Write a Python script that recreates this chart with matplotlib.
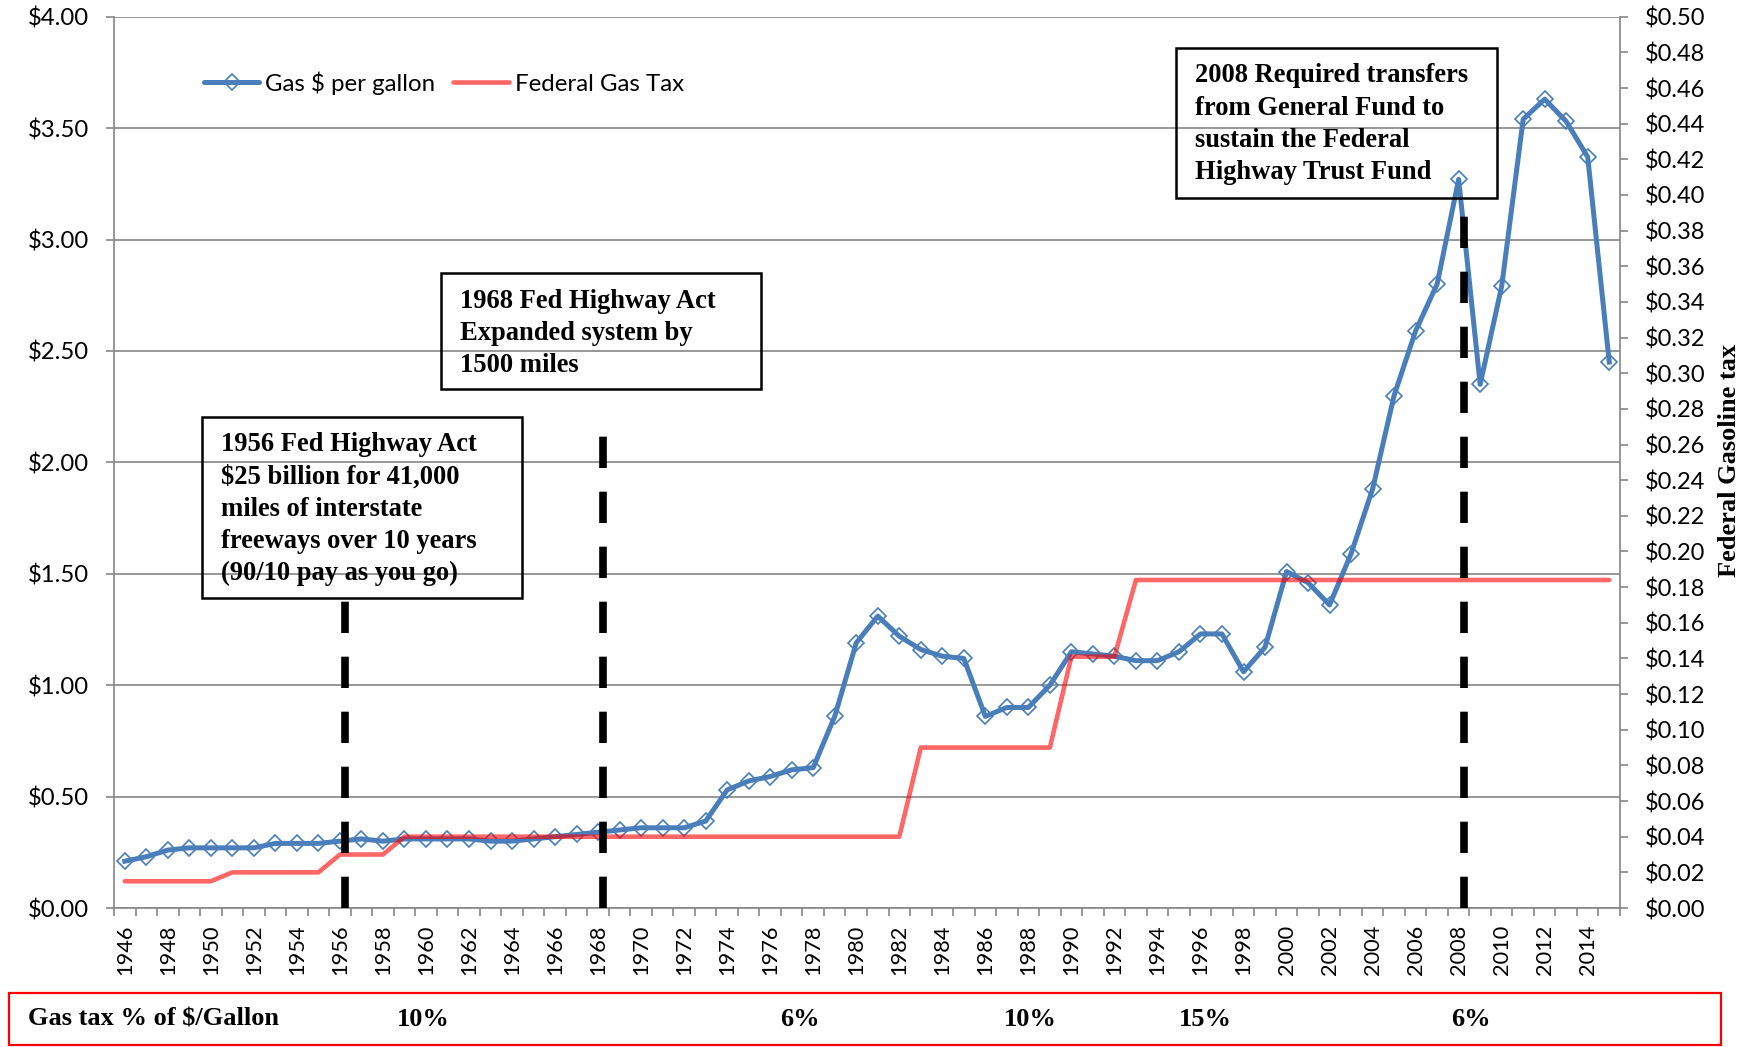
import matplotlib
matplotlib.use('Agg')
import matplotlib.pyplot as plt
from matplotlib.ticker import MultipleLocator, FuncFormatter, FixedLocator
from matplotlib.patches import Rectangle
from matplotlib.lines import Line2D

# ---------------- data ----------------
years = list(range(1946, 2016))
gas_price = [0.21, 0.23, 0.26, 0.27, 0.27, 0.27, 0.27, 0.29, 0.29, 0.29,
             0.30, 0.31, 0.30, 0.31, 0.31, 0.31, 0.31, 0.30, 0.30, 0.31,
             0.32, 0.33, 0.34, 0.35, 0.36, 0.36, 0.36, 0.39, 0.53, 0.57,
             0.59, 0.62, 0.63, 0.86, 1.19, 1.31, 1.22, 1.16, 1.13, 1.12,
             0.86, 0.90, 0.90, 1.00, 1.15, 1.14, 1.13, 1.11, 1.11, 1.15,
             1.23, 1.23, 1.06, 1.17, 1.51, 1.46, 1.36, 1.59, 1.88, 2.30,
             2.59, 2.80, 3.27, 2.35, 2.79, 3.54, 3.63, 3.53, 3.37, 2.45]
fed_tax = [0.015, 0.015, 0.015, 0.015, 0.015, 0.02, 0.02, 0.02, 0.02, 0.02,
           0.03, 0.03, 0.03, 0.04, 0.04, 0.04, 0.04, 0.04, 0.04, 0.04,
           0.04, 0.04, 0.04, 0.04, 0.04, 0.04, 0.04, 0.04, 0.04, 0.04,
           0.04, 0.04, 0.04, 0.04, 0.04, 0.04, 0.04, 0.09, 0.09, 0.09,
           0.09, 0.09, 0.09, 0.09, 0.141, 0.141, 0.141, 0.184, 0.184, 0.184,
           0.184, 0.184, 0.184, 0.184, 0.184, 0.184, 0.184, 0.184, 0.184, 0.184,
           0.184, 0.184, 0.184, 0.184, 0.184, 0.184, 0.184, 0.184, 0.184, 0.184]
series_names = ["Gas $ per gallon", "Federal Gas Tax"]
event_years = [1956, 1968, 2008]
event_tops = [1.43, 2.13, 3.13]
box1_lines = ["1956 Fed Highway Act", "$25 billion for 41,000", "miles of interstate",
              "freeways over 10 years", "(90/10 pay as you go)"]
box2_lines = ["1968 Fed Highway Act", "Expanded system by", "1500 miles"]
box3_lines = ["2008 Required transfers", "from General Fund to", "sustain the Federal",
              "Highway Trust Fund"]
pct_title = "Gas tax % of $/Gallon"
pct_labels = ["10%", "6%", "10%", "15%", "6%"]
right_label = "Federal Gasoline tax"

# ---------------- styling ----------------
W, H = 1760, 1047
BLUE = '#4A7EBB'
GRAY = '#868686'
SANS = ['Lato', 'DejaVu Sans']
SERIF = ['Liberation Serif', 'DejaVu Serif']
plt.rcParams['font.family'] = SANS


def fx(px):
    return px / W


def fy(py):
    return 1 - py / H


def esc(s):
    return s.replace('$', r'\$')


fig = plt.figure(figsize=(W / 100, H / 100), dpi=100)
L, R, T, B = 114, 1620, 16.7, 908
ax = fig.add_axes([fx(L), fy(B), fx(R - L), (B - T) / H])
ax2 = ax.twinx()

ax.set_xlim(years[0] - 0.5, years[-1] + 0.5)
ax.set_ylim(0, 4)
ax2.set_ylim(0, 0.5)

# gas price (left axis)
ax.plot(years, gas_price, color=BLUE, lw=3.6, marker='D', markersize=8.2,
        markerfacecolor='none', markeredgecolor=BLUE, markeredgewidth=1.2,
        solid_joinstyle='round', zorder=3)
# federal tax (right axis)
ax2.plot(years, fed_tax, color='#FF0000', alpha=0.6, lw=3.3,
         solid_joinstyle='round', solid_capstyle='round', zorder=3)

# event dashed lines
for yr, top in zip(event_years, event_tops):
    ax2.plot([yr + 0.23, yr + 0.23], [0, top], transform=ax.transData,
             color='black', lw=5.5, dashes=(4.1, 3.1), zorder=5)

# axes styling
ax.grid(axis='y', color=GRAY, lw=1.2, zorder=0)
ax.set_axisbelow(True)
for a in (ax, ax2):
    for s in a.spines.values():
        s.set_visible(False)
ax.spines['left'].set_visible(True)
ax.spines['bottom'].set_visible(True)
ax2.spines['right'].set_visible(True)
for s in (ax.spines['left'], ax.spines['bottom'], ax2.spines['right']):
    s.set_color(GRAY)
    s.set_linewidth(1.2)

money = FuncFormatter(lambda v, p: '$%.2f' % v)
ax.yaxis.set_major_locator(MultipleLocator(0.5))
ax.yaxis.set_major_formatter(money)
ax2.yaxis.set_major_locator(MultipleLocator(0.02))
ax2.yaxis.set_major_formatter(money)
ax.tick_params(axis='y', direction='out', length=5.8, width=1.2, color=GRAY,
               pad=12, labelsize=17.2)
ax2.tick_params(axis='y', direction='out', length=5.8, width=1.2, color=GRAY,
                pad=12, labelsize=17)

ax.set_xticks(years[::2])
ax.set_xticklabels([str(y) for y in years[::2]], rotation=90)
ax.xaxis.set_minor_locator(FixedLocator([y - 0.5 for y in years] + [years[-1] + 0.5]))
ax.tick_params(axis='x', which='major', length=0, pad=12, labelsize=15.7)
ax.tick_params(axis='x', which='minor', direction='out', length=5.8, width=1.2, color=GRAY)

ax2.set_ylabel(right_label, family=SERIF, fontweight='bold', fontsize=19)
ax2.yaxis.set_label_coords((1718 - L) / (R - L), (B - 460) / (B - T))

# legend
handles = [Line2D([], [], color=BLUE, lw=3.6, marker='D', markersize=8.2,
                  markerfacecolor='none', markeredgecolor=BLUE, markeredgewidth=1.2,
                  solid_capstyle='round'),
           Line2D([], [], color='#FF0000', alpha=0.6, lw=3.3, solid_capstyle='round')]
leg = ax2.legend(handles, [esc(n) for n in series_names], loc='center left',
                 bbox_to_anchor=(fx(204), fy(83)), bbox_transform=fig.transFigure,
                 ncol=2, frameon=False, fontsize=17.3, handlelength=2.3,
                 handletextpad=0.25, columnspacing=0.75, borderpad=0, borderaxespad=0)

# annotation boxes
def text_box(x0, y0, x1, y1, lines, first_base, pitch=32.3, inset=19):
    fig.add_artist(Rectangle((fx(x0), fy(y1)), fx(x1 - x0), (y1 - y0) / H,
                             transform=fig.transFigure, fill=False,
                             edgecolor='black', lw=1.8, zorder=10))
    for i, ln in enumerate(lines):
        fig.text(fx(x0 + inset), fy(first_base + i * pitch), esc(ln),
                 family=SERIF, fontweight='bold', fontsize=19.1,
                 ha='left', va='baseline', zorder=11)


text_box(201.7, 416.7, 521.7, 598.3, box1_lines, 451)
text_box(441, 273, 761, 389, box2_lines, 307.5)
text_box(1176, 48, 1497, 197.5, box3_lines, 82.5)

# bottom percentage box
fig.add_artist(Rectangle((fx(9), fy(1045)), fx(1721 - 9), (1045 - 993) / H,
                         transform=fig.transFigure, fill=False,
                         edgecolor='#FF0000', lw=1.6))
fig.text(fx(28), fy(1019), esc(pct_title), family=SERIF, fontweight='bold',
         fontsize=19, ha='left', va='center')
for xc, lab in zip([423, 800, 1030, 1205, 1471], pct_labels):
    fig.text(fx(xc), fy(1019), esc(lab), family=SERIF, fontweight='bold',
             fontsize=19, ha='center', va='center')

fig.savefig('out.png', dpi=100)
